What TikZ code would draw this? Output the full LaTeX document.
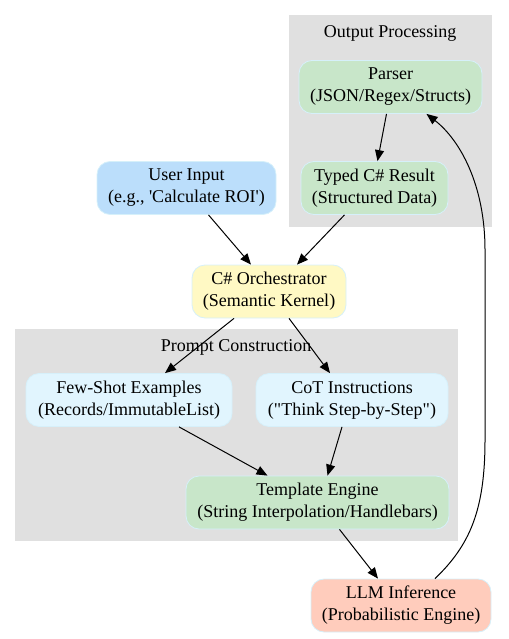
\documentclass[tikz,border=0pt]{standalone}
\usepackage{fontspec}
\setmainfont{Liberation Serif}
\usepackage{tikz}
\usetikzlibrary{arrows.meta, positioning}

\definecolor{clustergray}{HTML}{E0E0E0}
\definecolor{userblue}{HTML}{BBDEFB}
\definecolor{orchyellow}{HTML}{FFF9C4}
\definecolor{promptblue}{HTML}{E1F5FE}
\definecolor{engreen}{HTML}{C8E6C9}
\definecolor{llmred}{HTML}{FFCCBC}
\definecolor{edgecyan}{HTML}{D6F0FA}

\tikzset{
    box/.style={draw=edgecyan, line width=0.8pt, rounded corners=13pt, align=center,
        minimum height=53pt, inner xsep=4pt, font=\fontsize{18}{22}\selectfont},
    cluster/.style={fill=clustergray, draw=none},
    clabel/.style={font=\fontsize{18}{21}\selectfont},
    arr/.style={-{Triangle[length=11pt,width=9pt]}, line width=1pt}
}

\begin{document}
\begin{tikzpicture}[x=1pt, y=-1pt]
                    \useasboundingbox (0,0) rectangle (508,639);

                    % clusters
                    \fill[cluster] (289,15) rectangle (492,227);
                    \node[clabel] (outlabel) at (390,33) {Output Processing};
                    \fill[cluster] (15,329) rectangle (458,541);

                    % nodes
                    \node[box, fill=engreen, minimum width=183pt] (parser) at (390.5,87) {Parser\\(JSON/Regex/Structs)};
                    \node[box, fill=engreen, minimum width=147pt] (typed) at (374.5,188) {Typed C\# Result\\(Structured Data)};
                    \node[box, fill=userblue, minimum width=179pt] (user) at (186.5,188) {User Input\\(e.g., \textquotesingle Calculate ROI\textquotesingle)};
                    \node[box, fill=orchyellow, minimum width=154pt] (orch) at (269,291.5) {C\# Orchestrator\\(Semantic Kernel)};
                    \node[box, fill=promptblue, minimum width=206pt] (fewshot) at (129,400) {Few-Shot Examples\\(Records/ImmutableList)};
                    \node[box, fill=promptblue, minimum width=192pt] (cot) at (352,400) {CoT Instructions\\(\textquotedbl Think Step-by-Step\textquotedbl)};
                    \node[box, fill=engreen, minimum width=263pt] (template) at (317.5,502.5) {Template Engine\\(String Interpolation/Handlebars)};
                    \node[box, fill=llmred, minimum width=180pt] (llm) at (401,605.5) {LLM Inference\\(Probabilistic Engine)};

                    % edges
                    \draw[arr] ([xshift=-4pt]parser.south) -- ([xshift=3pt]typed.north);
                    \draw[arr] ([xshift=-30pt]typed.south) -- ([xshift=28pt]orch.north);
                    \draw[arr] ([xshift=22pt]user.south) -- ([xshift=-18pt]orch.north);
                    \draw[arr] ([xshift=-35pt]orch.south) -- ([xshift=36pt]fewshot.north);
                    \draw[arr] ([xshift=20pt]orch.south) -- ([xshift=-22pt]cot.north);
                    \node[clabel] (promptlabel) at (236,347) {Prompt Construction};
                    \draw[arr] ([xshift=50pt]fewshot.south) -- ([xshift=-50pt]template.north);
                    \draw[arr] ([xshift=-10pt]cot.south) -- ([xshift=10pt]template.north);
                    \draw[arr] ([xshift=22pt]template.south) -- ([xshift=-23pt]llm.north);
                    \draw[arr] ([xshift=34pt]llm.north) .. controls (470,545) and (485,510) .. (485,440)
                        -- (485,250) .. controls (485,185) and (460,140) .. ([xshift=36pt]parser.south);
                \end{tikzpicture}
\end{document}
